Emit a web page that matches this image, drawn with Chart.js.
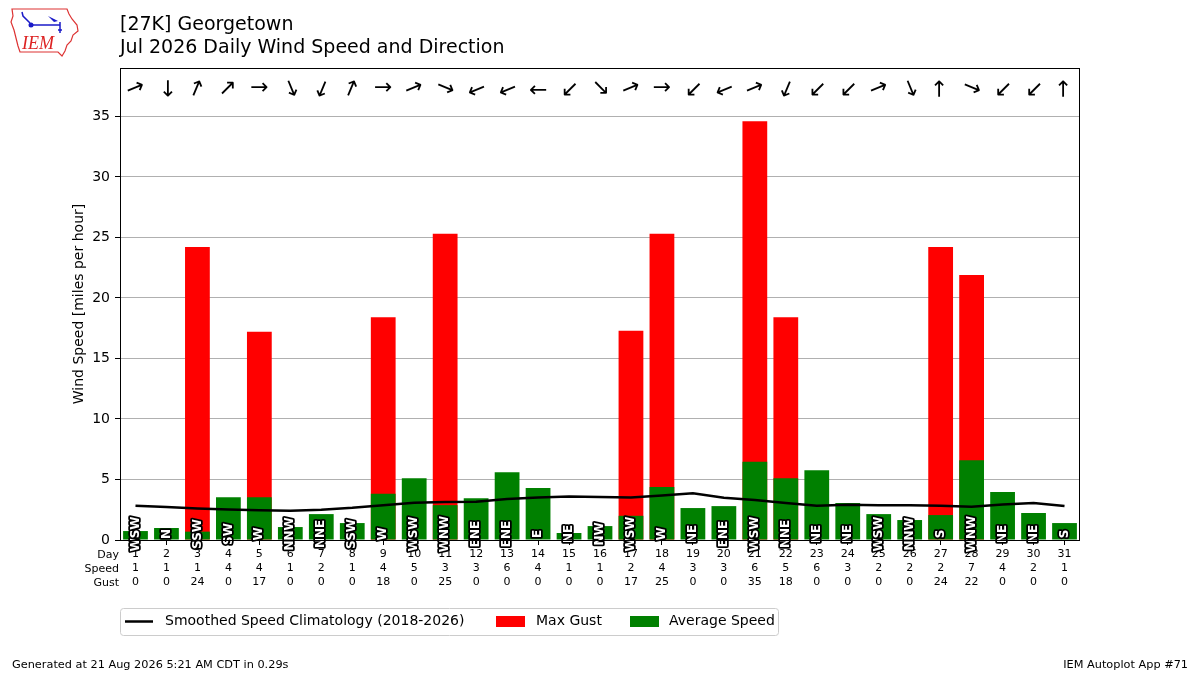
<!DOCTYPE html>
<html>
<head>
<meta charset="utf-8">
<script src="https://cdn.jsdelivr.net/npm/chart.js@4.4.1/dist/chart.umd.min.js"></script>
<style>
  html, body { margin: 0; padding: 0; background: #fff; }
  #wrap { width: 1200px; height: 675px; position: relative; }
</style>
</head>
<body>
<div id="wrap"><canvas id="c" width="1200" height="675"></canvas></div>
<script>
const days = [1,2,3,4,5,6,7,8,9,10,11,12,13,14,15,16,17,18,19,20,21,22,23,24,25,26,27,28,29,30,31];
const avgSpeed = [0.74,0.99,0.69,3.54,3.54,1.07,2.14,1.40,3.82,5.11,2.88,3.46,5.60,4.29,0.58,1.15,2.00,4.37,2.64,2.80,6.46,5.11,5.77,3.05,2.14,1.65,2.06,6.59,3.96,2.23,1.40];
const maxGust = [0,0,24.2,0,17.2,0,0,0,18.4,0,25.3,0,0,0,0,0,17.3,25.3,0,0,34.6,18.4,0,0,0,0,24.2,21.9,0,0,0];
const climSpeed = [2.83,2.72,2.61,2.53,2.45,2.42,2.50,2.66,2.88,3.08,3.13,3.16,3.38,3.52,3.60,3.56,3.52,3.68,3.87,3.49,3.30,3.05,2.83,2.91,2.88,2.88,2.83,2.75,2.94,3.05,2.80];
const speedTable = [1,1,1,4,4,1,2,1,4,5,3,3,6,4,1,1,2,4,3,3,6,5,6,3,2,2,2,7,4,2,1];
const gustTable = [0,0,24,0,17,0,0,0,18,0,25,0,0,0,0,0,17,25,0,0,35,18,0,0,0,0,24,22,0,0,0];
const directions = ['WSW','N','SSW','SW','W','NNW','NNE','SSW','W','WSW','WNW','ENE','ENE','E','NE','NW','WSW','W','NE','ENE','WSW','NNE','NE','NE','WSW','NNW','S','WNW','NE','NE','S'];
const compass = ['N','NNE','NE','ENE','E','ESE','SE','SSE','S','SSW','SW','WSW','W','WNW','NW','NNW'];
const yTicks = [0,5,10,15,20,25,30,35];
const rowLabels = ['Day','Speed','Gust'];
const titleLines = ['[27K] Georgetown','Jul 2026 Daily Wind Speed and Direction'];
const yTitle = 'Wind Speed [miles per hour]';
const footerLeft = 'Generated at 21 Aug 2026 5:21 AM CDT in 0.29s';
const footerRight = 'IEM Autoplot App #71';

const FONT = "'DejaVu Sans', sans-serif";
Chart.defaults.color = '#000';
Chart.defaults.font.family = FONT;

const extras = {
  id: 'extras',
  afterDatasetsDraw(chart) {
    const ctx = chart.ctx, x = chart.scales.x, y = chart.scales.y;
    ctx.save();
    // compass direction labels
    ctx.font = 'bold 12px ' + FONT;
    ctx.textAlign = 'center';
    ctx.textBaseline = 'middle';
    ctx.lineJoin = 'round';
    directions.forEach((d, i) => {
      const px = x.getPixelForValue(i), py = y.getPixelForValue(0.5);
      ctx.save();
      ctx.translate(px, py);
      ctx.rotate(-Math.PI / 2);
      ctx.lineWidth = 3.5;
      ctx.strokeStyle = '#000';
      ctx.strokeText(d, 0, 0);
      ctx.fillStyle = '#fff';
      ctx.fillText(d, 0, 0);
      ctx.restore();
    });
    // arrows
    ctx.font = '22px ' + FONT;
    ctx.fillStyle = '#000';
    directions.forEach((d, i) => {
      const from = compass.indexOf(d) * 22.5;
      const toward = (from + 180) % 360;
      const px = x.getPixelForValue(i), py = y.getPixelForValue(37.3);
      ctx.save();
      ctx.translate(px, py);
      ctx.rotate((toward - 90) * Math.PI / 180);
      ctx.fillText('\u2192', 0, 0);
      ctx.restore();
    });
    ctx.restore();
  },
  afterDraw(chart) {
    const ctx = chart.ctx, a = chart.chartArea;
    ctx.save();
    // plot border
    ctx.strokeStyle = '#000';
    ctx.lineWidth = 1;
    ctx.strokeRect(a.left + 0.5, a.top + 0.5, a.right - a.left - 1, a.bottom - a.top);
    // row labels
    ctx.font = '11px ' + FONT;
    ctx.fillStyle = '#000';
    ctx.textAlign = 'right';
    ctx.textBaseline = 'middle';
    rowLabels.forEach((t, i) => ctx.fillText(t, a.left - 1, 555 + i * 14));
    // title
    ctx.font = '19px ' + FONT;
    ctx.textAlign = 'left';
    ctx.textBaseline = 'middle';
    ctx.fillText(titleLines[0], 120, 25);
    ctx.fillText(titleLines[1], 120, 48);
    // y title
    ctx.save();
    ctx.font = '14px ' + FONT;
    ctx.translate(79, (a.top + a.bottom) / 2);
    ctx.rotate(-Math.PI / 2);
    ctx.textAlign = 'center';
    ctx.fillText(yTitle, 0, 0);
    ctx.restore();
    // legend
    const ds = chart.data.datasets;
    ctx.strokeStyle = '#cccccc';
    ctx.lineWidth = 1;
    ctx.beginPath();
    if (ctx.roundRect) ctx.roundRect(120.5, 608.5, 658, 27, 3); else ctx.rect(120.5, 608.5, 658, 27);
    ctx.stroke();
    ctx.font = '14px ' + FONT;
    ctx.textAlign = 'left';
    ctx.fillStyle = '#000';
    const ly = 621.5;
    ctx.strokeStyle = '#000';
    ctx.lineWidth = 2.5;
    ctx.beginPath(); ctx.moveTo(125, ly); ctx.lineTo(153, ly); ctx.stroke();
    ctx.fillText(ds[0].label, 165, ly);
    ctx.fillStyle = ds[1].backgroundColor;
    ctx.fillRect(496, ly - 5.5, 29, 11);
    ctx.fillStyle = '#000';
    ctx.fillText(ds[1].label, 536, ly);
    ctx.fillStyle = ds[2].backgroundColor;
    ctx.fillRect(630, ly - 5.5, 29, 11);
    ctx.fillStyle = '#000';
    ctx.fillText(ds[2].label, 669, ly);
    // footer
    ctx.font = '11.3px ' + FONT;
    ctx.textAlign = 'left';
    ctx.fillText(footerLeft, 12, 665);
    ctx.textAlign = 'right';
    ctx.fillText(footerRight, 1188, 665);
    // logo
    ctx.strokeStyle = '#d33';
    ctx.lineWidth = 1.2;
    ctx.beginPath();
    ctx.moveTo(12, 9); ctx.lineTo(67, 9); ctx.lineTo(69, 14); ctx.lineTo(72, 19);
    ctx.lineTo(77, 25); ctx.lineTo(78, 31); ctx.lineTo(73, 35); ctx.lineTo(71, 41);
    ctx.lineTo(67, 45); ctx.lineTo(65, 51); ctx.lineTo(62, 56); ctx.lineTo(58, 52);
    ctx.lineTo(20, 52); ctx.lineTo(18, 46); ctx.lineTo(16, 38); ctx.lineTo(14, 30);
    ctx.lineTo(11, 22); ctx.lineTo(13, 16); ctx.closePath();
    ctx.stroke();
    ctx.fillStyle = '#d22';
    ctx.font = 'italic 18px "Liberation Serif", serif';
    ctx.textAlign = 'left';
    ctx.fillText('IEM', 22, 44);
    ctx.strokeStyle = '#1a1ac8';
    ctx.fillStyle = '#1a1ac8';
    ctx.lineWidth = 1.5;
    ctx.beginPath(); ctx.moveTo(31, 25); ctx.lineTo(60, 25); ctx.stroke();
    ctx.beginPath(); ctx.arc(31, 25, 2.5, 0, Math.PI * 2); ctx.fill();
    ctx.beginPath(); ctx.moveTo(30, 23); ctx.lineTo(23, 16); ctx.lineTo(22, 12); ctx.stroke();
    ctx.beginPath(); ctx.moveTo(48, 16); ctx.lineTo(58, 21); ctx.lineTo(54, 22); ctx.closePath(); ctx.fill();
    ctx.beginPath(); ctx.moveTo(60, 22); ctx.lineTo(60, 33); ctx.moveTo(58, 30); ctx.lineTo(62, 30); ctx.stroke();
    ctx.restore();
  }
};

new Chart(document.getElementById('c'), {
  data: {
    labels: days,
    datasets: [
      { type: 'line', label: 'Smoothed Speed Climatology (2018-2026)', data: climSpeed,
        borderColor: '#000', borderWidth: 2.5, pointRadius: 0, tension: 0, order: -1 },
      { type: 'bar', label: 'Max Gust', data: maxGust, backgroundColor: '#ff0000',
        grouped: false, categoryPercentage: 1, barPercentage: 0.8, order: 2 },
      { type: 'bar', label: 'Average Speed', data: avgSpeed, backgroundColor: '#008000',
        grouped: false, categoryPercentage: 1, barPercentage: 0.8, order: 1 }
    ]
  },
  options: {
    responsive: false,
    animation: false,
    devicePixelRatio: 1,
    layout: { padding: { top: 68, right: 120, left: 0, bottom: 0 } },
    plugins: { legend: { display: false }, tooltip: { enabled: false } },
    scales: {
      x: {
        type: 'category',
        offset: true,
        afterFit(s) { s.height = 135; },
        grid: { offset: false, drawOnChartArea: false, drawTicks: true, tickLength: 5, tickColor: '#000' },
        border: { display: false },
        ticks: {
          autoSkip: false, maxRotation: 0, minRotation: 0, padding: 2,
          font: { size: 11, lineHeight: 1.27 },
          callback: (v, i) => [String(days[i]), String(speedTable[i]), String(gustTable[i])]
        }
      },
      y: {
        min: 0, max: 39,
        afterFit(s) { s.width = 120; },
        afterBuildTicks(s) { s.ticks = yTicks.map(v => ({ value: v })); },
        grid: { color: '#b0b0b0', lineWidth: 1, tickColor: '#000', tickLength: 5 },
        border: { display: false },
        ticks: { padding: 5, font: { size: 14 } }
      }
    }
  },
  plugins: [extras]
});
</script>
</body>
</html>
